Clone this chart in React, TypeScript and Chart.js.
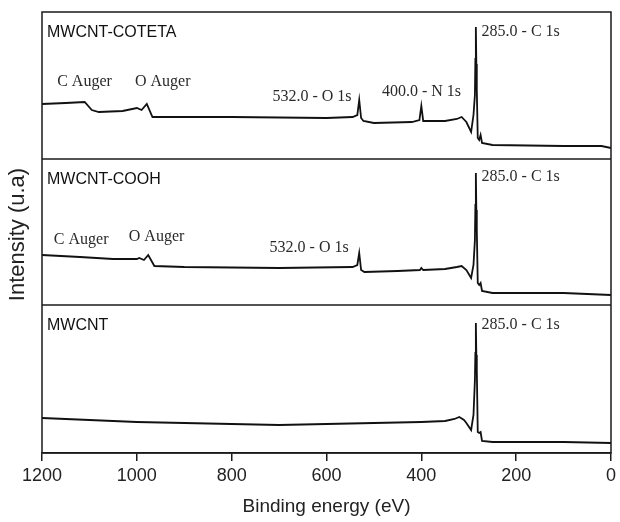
import React, { useEffect, useRef } from "react";
import { Chart, registerables } from "chart.js";

Chart.register(...registerables);

// ---- Data (binding energy in eV, intensity in arbitrary units) ----
const panelNames = ["MWCNT-COTETA", "MWCNT-COOH", "MWCNT"];
const xTickValues = [1200, 1000, 800, 600, 400, 200, 0];

const cotetaEnergy = [1200, 1150, 1110, 1095, 1080, 1030, 1000, 990, 979, 967, 950, 800, 600, 545, 535, 531, 527, 522, 500, 420, 404, 400, 396, 350, 325, 315, 305, 295, 290, 287, 286, 285, 284, 283, 281, 278, 275, 272, 250, 100, 20, 0];
const cotetaIntensity = [55, 56, 57, 49, 47, 48, 51, 49, 55, 42, 42, 42, 41, 42, 44, 59, 41, 38, 36, 37, 39, 53, 38, 38, 40, 42, 37, 27, 44, 64, 100, 132, 95, 69, 21, 19, 24, 16, 14, 13, 13, 11];

const coohEnergy = [1200, 1120, 1050, 1000, 995, 985, 976, 963, 900, 700, 545, 535, 531, 527, 520, 450, 403, 400, 396, 350, 325, 315, 305, 295, 290, 287, 286, 285, 284, 283, 281, 278, 275, 272, 250, 100, 0];
const coohIntensity = [50, 48, 46, 46, 47, 45, 50, 39, 38, 37, 38, 40, 52, 35, 33, 34, 35, 37, 35, 36, 38, 39, 35, 27, 40, 65, 100, 132, 95, 75, 22, 20, 22, 14, 12, 12, 10];

const pristineEnergy = [1200, 1100, 1000, 900, 800, 700, 600, 500, 400, 350, 330, 320, 310, 305, 295, 290, 287, 286, 285, 284, 283, 281, 278, 275, 272, 250, 100, 0];
const pristineIntensity = [35, 33, 31, 30, 29, 28, 29, 30, 31, 32, 34, 36, 33, 30, 23, 38, 73, 100, 130, 98, 83, 21, 20, 21, 12, 11, 11, 10];

// Peak annotations: panel index, text, anchor energy, anchor intensity
const annotPanel = [0, 0, 0, 0, 0, 1, 1, 1, 1, 2];
const annotText = ["285.0 - C 1s", "C Auger", "O Auger", "532.0 - O 1s", "400.0 - N 1s", "285.0 - C 1s", "C Auger", "O Auger", "532.0 - O 1s", "285.0 - C 1s"];
const annotEnergy = [273, 1168, 1004, 714, 483, 273, 1175, 1017, 720, 273];
const annotIntensity = [127, 77, 77, 62, 67, 128, 65, 68, 57, 128];

const panelMax = [147, 146, 148];
const axisIds = ["yTop", "yMid", "yBot"];

const FRAME = "#1a1a1a";

const overlayPlugin = {
  id: "xpsOverlay",
  afterDatasetsDraw(chart: any) {
    const { ctx, chartArea, scales } = chart;
    const x = scales.x;
    ctx.save();
    // frame & separators
    ctx.strokeStyle = FRAME;
    ctx.lineWidth = 1.5;
    ctx.strokeRect(chartArea.left, chartArea.top, chartArea.right - chartArea.left, chartArea.bottom - chartArea.top);
    [scales.yMid.top, scales.yBot.top].forEach((yy: number) => {
      ctx.beginPath();
      ctx.moveTo(chartArea.left, yy);
      ctx.lineTo(chartArea.right, yy);
      ctx.stroke();
    });
    // panel names
    ctx.fillStyle = "#111";
    ctx.textBaseline = "middle";
    ctx.textAlign = "left";
    ctx.font = "16px 'Liberation Sans', Arial, sans-serif";
    axisIds.forEach((id, i) => {
      const s = scales[id];
      ctx.fillText(panelNames[i], chartArea.left + 5, s.getPixelForValue(panelMax[i] - 21));
    });
    // peak annotations
    ctx.font = "16px 'Liberation Serif', 'Times New Roman', serif";
    ctx.fillStyle = "#2a2a2a";
    annotText.forEach((t, i) => {
      const s = scales[axisIds[annotPanel[i]]];
      ctx.fillText(t, x.getPixelForValue(annotEnergy[i]), s.getPixelForValue(annotIntensity[i]));
    });
    // y title
    ctx.font = "22px 'Liberation Sans', Arial, sans-serif";
    ctx.fillStyle = "#222";
    ctx.textAlign = "center";
    ctx.translate(18, (chartArea.top + chartArea.bottom) / 2 + 2);
    ctx.rotate(-Math.PI / 2);
    ctx.fillText("Intensity (u.a)", 0, 0);
    ctx.restore();
  },
};

function toPoints(ex: number[], ys: number[]) {
  return ex.map((e, i) => ({ x: e, y: ys[i] }));
}

export default function App() {
  const canvasRef = useRef<HTMLCanvasElement | null>(null);

  useEffect(() => {
    document.body.style.margin = "0";
    const canvas = canvasRef.current;
    if (!canvas) return;
    const lineDs = (label: string, ex: number[], ys: number[], axis: string) => ({
      label,
      data: toPoints(ex, ys),
      yAxisID: axis,
      borderColor: "#111",
      borderWidth: 1.8,
      pointRadius: 0,
      tension: 0,
      fill: false,
    });
    const yAxis = (i: number) => ({
      type: "linear",
      position: "left",
      stack: "panels",
      stackWeight: panelMax[i],
      weight: 3 - i,
      min: 0,
      max: panelMax[i],
      display: true,
      ticks: { display: false },
      grid: { display: false, drawTicks: false },
      border: { display: false },
      title: { display: false },
    });
    const chart = new Chart(canvas, {
      type: "line",
      data: {
        datasets: [
          lineDs(panelNames[0], cotetaEnergy, cotetaIntensity, "yTop"),
          lineDs(panelNames[1], coohEnergy, coohIntensity, "yMid"),
          lineDs(panelNames[2], pristineEnergy, pristineIntensity, "yBot"),
        ],
      },
      options: {
        animation: false,
        responsive: true,
        maintainAspectRatio: false,
        layout: { padding: { top: 12, left: 42, right: 7, bottom: 3.6 } },
        plugins: { legend: { display: false }, tooltip: { enabled: false } },
        scales: {
          x: {
            type: "linear",
            reverse: true,
            min: 0,
            max: 1200,
            afterBuildTicks: (axis: any) => {
              axis.ticks = xTickValues.map((v) => ({ value: v }));
            },
            ticks: {
              color: "#222",
              padding: 4,
              maxRotation: 0,
              callback: (v: any) => String(v),
              font: { family: "'Liberation Sans', Arial, sans-serif", size: 18 },
            },
            grid: {
              display: true,
              drawOnChartArea: false,
              drawTicks: true,
              tickLength: 8,
              color: FRAME,
              lineWidth: 1.5,
            },
            border: { display: true, color: FRAME, width: 1.5 },
            title: {
              display: true,
              text: "Binding energy (eV)",
              color: "#222",
              padding: { top: 5, bottom: 0 },
              font: { family: "'Liberation Sans', Arial, sans-serif", size: 19 },
            },
          },
          yTop: yAxis(0),
          yMid: yAxis(1),
          yBot: yAxis(2),
        } as any,
      },
      plugins: [overlayPlugin],
    } as any);
    return () => chart.destroy();
  }, []);

  return (
    <div style={{ position: "relative", width: 620, height: 522, background: "#fff" }}>
      <canvas ref={canvasRef} style={{ display: "block" }} />
    </div>
  );
}
